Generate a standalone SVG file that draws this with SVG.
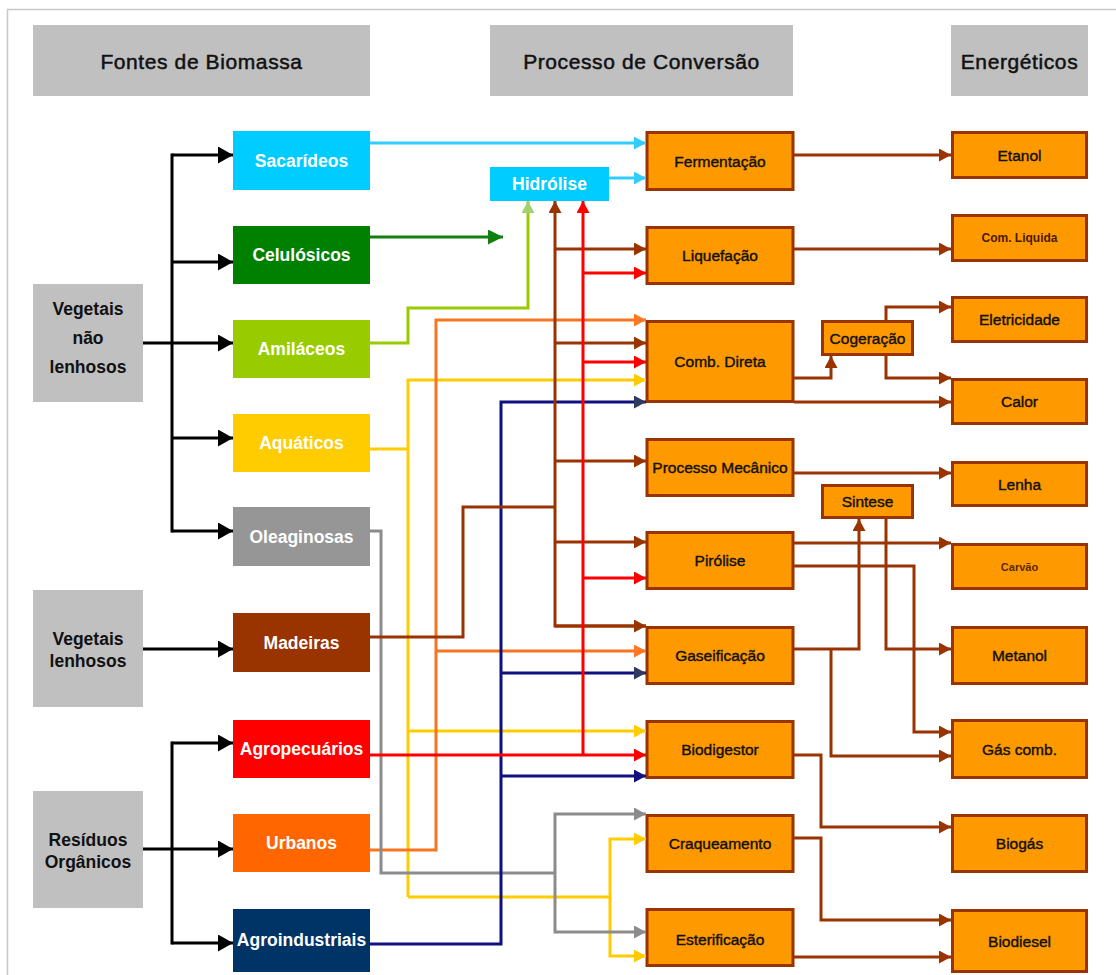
<svg xmlns="http://www.w3.org/2000/svg" width="1116" height="975" viewBox="0 0 1116 975">
<defs>
<style>
text{font-family:"Liberation Sans",Arial,sans-serif;text-anchor:middle;dominant-baseline:central}
.hdr rect{fill:#C0C0C0}
.hdr text{font-size:21px;fill:#111;stroke:#111;stroke-width:0.5px;letter-spacing:0.6px}
.cat rect{fill:#C0C0C0}
.cat text{font-size:17.5px;font-weight:bold;fill:#111}
.src text{font-size:17.5px;font-weight:bold;fill:#fff}
.proc rect{fill:#FF9900;stroke:#993300;stroke-width:3}
.proc text{font-size:15.5px;fill:#111;stroke:#111;stroke-width:0.4px}
.proc text.sm{font-size:12px;font-weight:bold;fill:#4a1a00;stroke:none}
.c path{fill:none;stroke-width:3;stroke-linejoin:miter}
.k{stroke:#000}.lb{stroke:#33CCFF}.gr{stroke:#118011}.lg{stroke:#99CC00}.br{stroke:#993300}.rd{stroke:#FF0000}.or{stroke:#F57520}.ye{stroke:#FFCC00}.nv{stroke:#101080}.gy{stroke:#8C8C8C}
.sq{stroke-linecap:square}
</style>
<marker id="mk" markerUnits="userSpaceOnUse" markerWidth="15" markerHeight="17" viewBox="0 0 15 17" refX="15" refY="8.5" orient="auto"><path d="M0,0 L15,8.5 L0,17 Z" fill="#000"/></marker>
<marker id="mlb" markerUnits="userSpaceOnUse" markerWidth="12" markerHeight="13" viewBox="0 0 12 13" refX="12" refY="6.5" orient="auto"><path d="M0,0 L12,6.5 L0,13 Z" fill="#33CCFF"/></marker>
<marker id="mgr" markerUnits="userSpaceOnUse" markerWidth="15" markerHeight="15" viewBox="0 0 15 15" refX="15" refY="7.5" orient="auto"><path d="M0,0 L15,7.5 L0,15 Z" fill="#118011"/></marker>
<marker id="mlg" markerUnits="userSpaceOnUse" markerWidth="12" markerHeight="13" viewBox="0 0 12 13" refX="12" refY="6.5" orient="auto"><path d="M0,0 L12,6.5 L0,13 Z" fill="#A3D06E"/></marker>
<marker id="mbr" markerUnits="userSpaceOnUse" markerWidth="12" markerHeight="13" viewBox="0 0 12 13" refX="12" refY="6.5" orient="auto"><path d="M0,0 L12,6.5 L0,13 Z" fill="#993300"/></marker>
<marker id="mrd" markerUnits="userSpaceOnUse" markerWidth="12" markerHeight="13" viewBox="0 0 12 13" refX="12" refY="6.5" orient="auto"><path d="M0,0 L12,6.5 L0,13 Z" fill="#FF0000"/></marker>
<marker id="mor" markerUnits="userSpaceOnUse" markerWidth="12" markerHeight="13" viewBox="0 0 12 13" refX="12" refY="6.5" orient="auto"><path d="M0,0 L12,6.5 L0,13 Z" fill="#FF7722"/></marker>
<marker id="mye" markerUnits="userSpaceOnUse" markerWidth="12" markerHeight="13" viewBox="0 0 12 13" refX="12" refY="6.5" orient="auto"><path d="M0,0 L12,6.5 L0,13 Z" fill="#FFCC00"/></marker>
<marker id="mnv" markerUnits="userSpaceOnUse" markerWidth="12" markerHeight="13" viewBox="0 0 12 13" refX="12" refY="6.5" orient="auto"><path d="M0,0 L12,6.5 L0,13 Z" fill="#101080"/></marker>
<marker id="msl" markerUnits="userSpaceOnUse" markerWidth="12" markerHeight="13" viewBox="0 0 12 13" refX="12" refY="6.5" orient="auto"><path d="M0,0 L12,6.5 L0,13 Z" fill="#2F3A60"/></marker>
<marker id="mgy" markerUnits="userSpaceOnUse" markerWidth="12" markerHeight="13" viewBox="0 0 12 13" refX="12" refY="6.5" orient="auto"><path d="M0,0 L12,6.5 L0,13 Z" fill="#8C8C8C"/></marker>
</defs>
<rect x="0" y="0" width="1116" height="975" fill="#fff"/>
<rect x="7.5" y="9.5" width="1130" height="1000" fill="none" stroke="#C8C8C8" stroke-width="1.5"/>

<g id="headers" class="hdr">
<g id="h-fontes"><rect x="33" y="25" width="337" height="71"/><text x="201.5" y="61">Fontes de Biomassa</text></g>
<g id="h-processo"><rect x="490" y="25" width="303" height="71"/><text x="641.5" y="61">Processo de Conversão</text></g>
<g id="h-energeticos"><rect x="951" y="25" width="137" height="71"/><text x="1019.5" y="61">Energéticos</text></g>
</g>

<g id="categories" class="cat">
<g id="cat-nao-lenhosos"><rect x="33" y="284" width="110" height="118"/><text x="88" y="309">Vegetais</text><text x="88" y="338">não</text><text x="88" y="367">lenhosos</text></g>
<g id="cat-lenhosos"><rect x="33" y="590" width="110" height="117"/><text x="88" y="639">Vegetais</text><text x="88" y="661">lenhosos</text></g>
<g id="cat-residuos"><rect x="33" y="791" width="110" height="117"/><text x="88" y="840">Resíduos</text><text x="88" y="862">Orgânicos</text></g>
</g>

<g id="sources" class="src">
<g id="sacarideos"><rect x="233" y="131" width="137" height="59" fill="#00CCFF"/><text x="301.5" y="160.5">Sacarídeos</text></g>
<g id="celulosicos"><rect x="233" y="226" width="137" height="58" fill="#008000"/><text x="301.5" y="255">Celulósicos</text></g>
<g id="amilaceos"><rect x="233" y="320" width="137" height="58" fill="#99CC00"/><text x="301.5" y="349">Amiláceos</text></g>
<g id="aquaticos"><rect x="233" y="414" width="137" height="58" fill="#FFCC00"/><text x="301.5" y="443">Aquáticos</text></g>
<g id="oleaginosas"><rect x="233" y="507" width="137" height="59" fill="#969696"/><text x="301.5" y="536.5">Oleaginosas</text></g>
<g id="madeiras"><rect x="233" y="613" width="137" height="59" fill="#993300"/><text x="301.5" y="642.5">Madeiras</text></g>
<g id="agropecuarios"><rect x="233" y="720" width="137" height="58" fill="#FF0000"/><text x="301.5" y="749">Agropecuários</text></g>
<g id="urbanos"><rect x="233" y="814" width="137" height="58" fill="#FF6600"/><text x="301.5" y="843">Urbanos</text></g>
<g id="agroindustriais"><rect x="233" y="909" width="137" height="63" fill="#003366"/><text x="301.5" y="940">Agroindustriais</text></g>
<g id="hidrolise"><rect x="490" y="167" width="119" height="34" fill="#00CCFF"/><text x="549.5" y="184">Hidrólise</text></g>
</g>

<g id="processes" class="proc">
<g id="fermentacao"><rect x="647" y="132.5" width="146" height="57"/><text x="720" y="161">Fermentação</text></g>
<g id="liquefacao"><rect x="647" y="227.5" width="146" height="56"/><text x="720" y="255.5">Liquefação</text></g>
<g id="comb-direta"><rect x="647" y="321.5" width="146" height="80"/><text x="720" y="361.5">Comb. Direta</text></g>
<g id="processo-mecanico"><rect x="647" y="439.5" width="146" height="56"/><text x="720" y="467.5">Processo Mecânico</text></g>
<g id="pirolise"><rect x="647" y="532.5" width="146" height="56"/><text x="720" y="560.5">Pirólise</text></g>
<g id="gaseificacao"><rect x="647" y="627.5" width="146" height="56"/><text x="720" y="655.5">Gaseificação</text></g>
<g id="biodigestor"><rect x="647" y="721.5" width="146" height="56"/><text x="720" y="749.5">Biodigestor</text></g>
<g id="craqueamento"><rect x="647" y="815.5" width="146" height="56"/><text x="720" y="843.5">Craqueamento</text></g>
<g id="esterificacao"><rect x="647" y="909.5" width="146" height="56"/><text x="720" y="939">Esterificação</text></g>
<g id="cogeracao"><rect x="822.5" y="321.5" width="90" height="33"/><text x="867.5" y="338">Cogeração</text></g>
<g id="sintese"><rect x="822.5" y="485.5" width="90" height="32"/><text x="867.5" y="501.5">Sintese</text></g>
<g id="etanol"><rect x="952.5" y="132.5" width="134" height="45"/><text x="1019.5" y="155">Etanol</text></g>
<g id="com-liquida"><rect x="952.5" y="215.5" width="134" height="45"/><text class="sm" x="1019.5" y="238">Com. Liquida</text></g>
<g id="eletricidade"><rect x="952.5" y="297.5" width="134" height="44"/><text x="1019.5" y="319.5">Eletricidade</text></g>
<g id="calor"><rect x="952.5" y="379.5" width="134" height="44"/><text x="1019.5" y="401.5">Calor</text></g>
<g id="lenha"><rect x="952.5" y="462.5" width="134" height="43"/><text x="1019.5" y="484">Lenha</text></g>
<g id="carvao"><rect x="952.5" y="544.5" width="134" height="44"/><text class="sm" x="1019.5" y="566.5" style="font-size:11px;fill:#5a2a0a">Carvão</text></g>
<g id="metanol"><rect x="952.5" y="627.5" width="134" height="56"/><text x="1019.5" y="655.5">Metanol</text></g>
<g id="gas-comb"><rect x="952.5" y="720.5" width="134" height="57"/><text x="1019.5" y="749">Gás comb.</text></g>
<g id="biogas"><rect x="952.5" y="815.5" width="134" height="56"/><text x="1019.5" y="843.5">Biogás</text></g>
<g id="biodiesel"><rect x="952.5" y="910.5" width="134" height="61"/><text x="1019.5" y="941">Biodiesel</text></g>
</g>

<g id="connectors" class="c">
<path class="k sq" d="M172,155 V531 M172,743 V943"/>
<path class="k" d="M143,343 H233" marker-end="url(#mk)"/>
<path class="k" d="M172,155 H233" marker-end="url(#mk)"/>
<path class="k" d="M172,262 H233" marker-end="url(#mk)"/>
<path class="k" d="M172,438 H233" marker-end="url(#mk)"/>
<path class="k" d="M172,531 H233" marker-end="url(#mk)"/>
<path class="k" d="M143,649 H233" marker-end="url(#mk)"/>
<path class="k" d="M143,849 H233" marker-end="url(#mk)"/>
<path class="k" d="M172,743 H233" marker-end="url(#mk)"/>
<path class="k" d="M172,943 H233" marker-end="url(#mk)"/>

<path class="lb" d="M370,143 H646" marker-end="url(#mlb)"/>
<path class="lb" d="M609,178 H646" marker-end="url(#mlb)"/>
<path class="gr" d="M370,237 H503" marker-end="url(#mgr)"/>
<path class="lg" d="M370,343 H408 V308 H528 V201" marker-end="url(#mlg)"/>

<path class="ye" d="M370,449 H408"/>
<path class="ye" d="M408,897 V380 H646" marker-end="url(#mye)"/>
<path class="ye" d="M408,731 H646" marker-end="url(#mye)"/>
<path class="ye" d="M408,897 H610 V839 H646" marker-end="url(#mye)"/>
<path class="ye" d="M610,897 V956 H646" marker-end="url(#mye)"/>

<path class="or" d="M370,850 H436 V320 H646" marker-end="url(#mor)"/>
<path class="or" d="M436,651 H646" marker-end="url(#mor)"/>

<path class="gy" d="M370,531 H381 V873 H555"/>
<path class="gy" d="M555,873 V814 H646" marker-end="url(#mgy)"/>
<path class="gy" d="M555,873 V932 H646" marker-end="url(#mgy)"/>

<path class="nv" d="M370,944 H501 V402 H646" marker-end="url(#msl)"/>
<path class="nv" d="M501,673 H646" marker-end="url(#msl)"/>
<path class="nv" d="M501,776 H646" marker-end="url(#mnv)"/>

<path class="br" d="M370,637 H463 V507 H555"/>
<path class="br" d="M646,626 H555 V201" marker-end="url(#mbr)"/>
<path class="br" d="M555,626 H646" marker-end="url(#mbr)"/>
<path class="br" d="M555,249 H646" marker-end="url(#mbr)"/>
<path class="br" d="M555,343 H646" marker-end="url(#mbr)"/>
<path class="br" d="M555,461 H646" marker-end="url(#mbr)"/>
<path class="br" d="M555,542 H646" marker-end="url(#mbr)"/>

<path class="rd" d="M370,755 H646" marker-end="url(#mrd)"/>
<path class="rd" d="M583,755 V201" marker-end="url(#mrd)"/>
<path class="rd" d="M583,273 H646" marker-end="url(#mrd)"/>
<path class="rd" d="M583,362 H646" marker-end="url(#mrd)"/>
<path class="rd" d="M583,578 H646" marker-end="url(#mrd)"/>

<path class="br" d="M794,155 H951" marker-end="url(#mbr)"/>
<path class="br" d="M794,249 H951" marker-end="url(#mbr)"/>
<path class="br" d="M794,378 H831 V356" marker-end="url(#mbr)"/>
<path class="br" d="M886,320 V307 H951" marker-end="url(#mbr)"/>
<path class="br" d="M886,356 V378 H951" marker-end="url(#mbr)"/>
<path class="br" d="M794,402 H951" marker-end="url(#mbr)"/>
<path class="br" d="M794,473 H951" marker-end="url(#mbr)"/>
<path class="br" d="M794,543 H951" marker-end="url(#mbr)"/>
<path class="br" d="M794,566 H914 V732 H951" marker-end="url(#mbr)"/>
<path class="br" d="M794,649 H859 V519" marker-end="url(#mbr)"/>
<path class="br" d="M831,649 V756 H951" marker-end="url(#mbr)"/>
<path class="br" d="M886,519 V649 H951" marker-end="url(#mbr)"/>
<path class="br" d="M794,755 H821 V827 H951" marker-end="url(#mbr)"/>
<path class="br" d="M794,838 H821 V920 H951" marker-end="url(#mbr)"/>
<path class="br" d="M794,957 H951" marker-end="url(#mbr)"/>
</g>
</svg>
